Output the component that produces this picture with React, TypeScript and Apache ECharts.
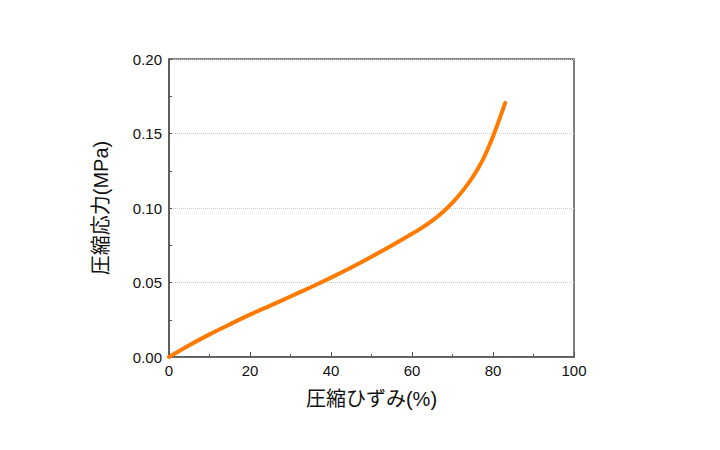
import React, { useEffect, useRef } from "react";
import * as echarts from "echarts";

const strainPct: number[] = [0, 5, 10, 15, 20, 25, 30, 35, 40, 45, 50, 55, 60, 62.5, 65, 67.5, 70, 72.5, 75, 77.5, 80, 82.5, 83];
const stressMPa: number[] = [0, 0.0079, 0.0152, 0.0219, 0.0284, 0.0345, 0.0406, 0.0468, 0.0533, 0.0601, 0.0673, 0.0748, 0.0827, 0.0868, 0.0915, 0.097, 0.1036, 0.1115, 0.1208, 0.1325, 0.148, 0.1665, 0.1705];

const xTitle = "圧縮ひずみ(%)";
const yTitle = "圧縮応力(MPa)";

export default function App() {
  const ref = useRef<HTMLDivElement>(null);
  useEffect(() => {
    document.body.style.margin = "0";
    const chart = echarts.init(ref.current!, undefined, { renderer: "svg" });
    const font = "'Liberation Sans', Arial, 'Noto Sans CJK JP', sans-serif";
    chart.setOption({
      animation: false,
      backgroundColor: "#ffffff",
      grid: {
        left: 169,
        right: 146,
        top: 59,
        bottom: 93,
        show: true,
        borderColor: "#555",
        borderWidth: 1.5,
        backgroundColor: "transparent",
      },
      xAxis: {
        type: "value",
        min: 0,
        max: 100,
        interval: 20,
        name: xTitle,
        nameLocation: "middle",
        nameGap: 32,
        nameTextStyle: { fontFamily: font, fontSize: 20, color: "#111" },
        axisLine: { show: true, lineStyle: { color: "#555", width: 1.5 } },
        axisTick: { show: true, inside: true, length: 5, lineStyle: { color: "#555" } },
        minorTick: { show: true, splitNumber: 2, length: 3, lineStyle: { color: "#555" } },
        axisLabel: { fontFamily: font, fontSize: 15, color: "#111", margin: 6 },
        splitLine: { show: false },
      },
      yAxis: {
        type: "value",
        min: 0,
        max: 0.2,
        interval: 0.05,
        name: yTitle,
        nameLocation: "middle",
        nameGap: 58,
        nameRotate: 90,
        nameTextStyle: { fontFamily: font, fontSize: 20, color: "#111" },
        axisLine: { show: true, lineStyle: { color: "#555", width: 1.5 } },
        axisTick: { show: true, inside: true, length: 3, lineStyle: { color: "#555" } },
        minorTick: { show: true, splitNumber: 2, length: 3, lineStyle: { color: "#555" } },
        axisLabel: {
          fontFamily: font,
          fontSize: 15,
          color: "#111",
          margin: 7,
          formatter: (v: number) => v.toFixed(2),
        },
        splitLine: { show: true, lineStyle: { color: "#c8c8c8", type: "dotted", width: 1 } },
      },
      series: [
        {
          type: "line",
          data: strainPct.map((x, i) => [x, stressMPa[i]]),
          smooth: 0.3,
          showSymbol: false,
          lineStyle: { color: "#ff7a00", width: 4, cap: "round" },
        },
      ],
    });
    return () => chart.dispose();
  }, []);
  return <div ref={ref} style={{ width: 720, height: 450 }} />;
}
